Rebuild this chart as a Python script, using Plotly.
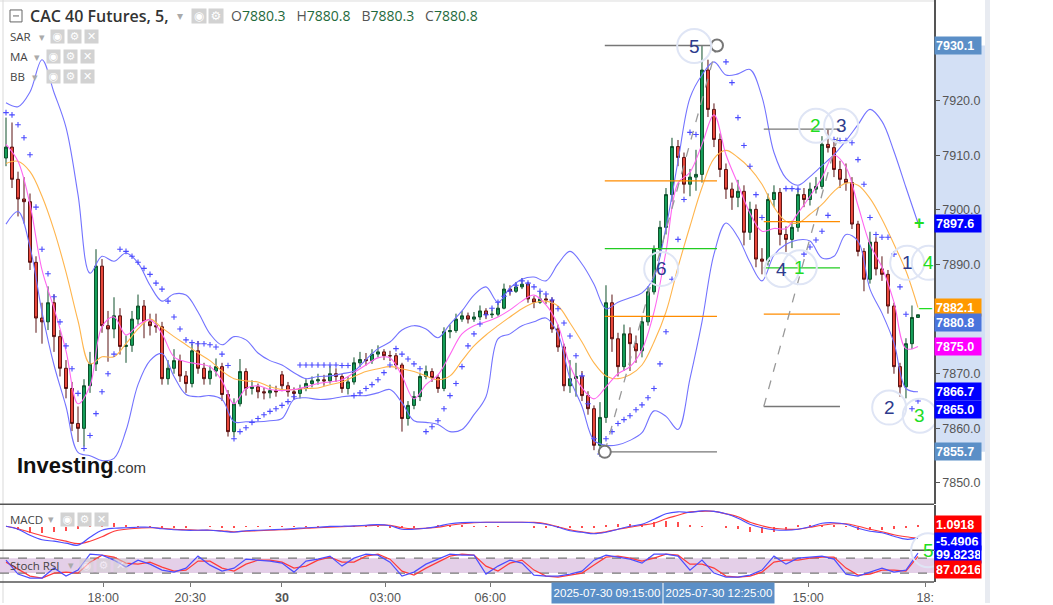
import plotly.graph_objects as go
from plotly.subplots import make_subplots

W, H = 1053, 605

# Candles (one bar per ~10 min)
opens = [7909.5, 7911.5, 7905.6, 7902.0, 7901.5, 7890.4, 7880.2, 7879.5, 7883.0, 7876.8,
         7871.0, 7867.3, 7860.9, 7860.0, 7867.8, 7871.8, 7889.7, 7878.8, 7878.2, 7880.6,
         7875.0, 7875.2, 7880.0, 7882.4, 7879.5, 7878.8, 7878.6, 7869.1, 7871.0, 7872.4,
         7869.6, 7868.2, 7874.2, 7871.0, 7869.1, 7870.5, 7871.3, 7866.2, 7859.4, 7864.5,
         7870.4, 7867.3, 7867.6, 7866.7, 7866.5, 7866.9, 7869.8, 7867.8, 7866.7, 7866.4,
         7867.3, 7868.2, 7868.7, 7868.9, 7868.7, 7870.0, 7869.5, 7867.3, 7868.5, 7872.0,
         7872.6, 7872.4, 7873.6, 7874.0, 7873.3, 7873.3, 7871.6, 7861.8, 7864.2, 7865.8,
         7869.5, 7870.4, 7869.3, 7867.3, 7877.7, 7877.9, 7880.0, 7880.6, 7880.0, 7880.4,
         7881.5, 7880.8, 7880.9, 7882.0, 7885.5, 7885.1, 7885.9, 7886.4, 7883.7, 7883.1,
         7883.7, 7883.5, 7878.2, 7874.9, 7867.8, 7869.1, 7869.5, 7866.0, 7863.6, 7856.9,
         7862.0, 7883.0, 7876.4, 7871.3, 7877.3, 7875.5, 7874.2, 7879.5, 7885.0, 7892.8,
         7896.8, 7902.8, 7911.6, 7909.6, 7904.7, 7906.0, 7906.5, 7925.6, 7918.4, 7912.9,
         7907.4, 7903.8, 7902.3, 7903.4, 7895.9, 7900.1, 7891.0, 7890.6, 7901.9, 7903.2,
         7895.5, 7894.6, 7896.8, 7902.8, 7901.9, 7903.8, 7904.3, 7912.0, 7911.4, 7907.4,
         7905.6, 7905.0, 7897.4, 7892.4, 7887.3, 7894.1, 7889.2, 7888.2, 7882.4, 7871.3,
         7867.6, 7875.5, 7880.3]
highs = [7916.9, 7916.0, 7907.0, 7906.0, 7903.0, 7891.5, 7883.0, 7886.0, 7884.5, 7878.0,
         7872.5, 7868.5, 7864.0, 7869.0, 7874.0, 7892.8, 7891.0, 7881.5, 7884.0, 7882.0,
         7877.0, 7881.5, 7884.5, 7883.5, 7881.0, 7881.0, 7879.5, 7872.5, 7874.5, 7873.5,
         7870.5, 7875.5, 7876.0, 7872.0, 7871.5, 7872.8, 7872.0, 7867.0, 7865.5, 7872.7,
         7871.0, 7868.8, 7868.2, 7867.5, 7868.0, 7867.8, 7870.5, 7868.5, 7867.5, 7868.0,
         7869.0, 7869.5, 7870.0, 7869.8, 7871.5, 7871.0, 7870.0, 7869.5, 7873.0, 7874.0,
         7873.8, 7874.5, 7875.2, 7874.5, 7874.2, 7873.8, 7872.0, 7865.0, 7866.8, 7870.2,
         7871.5, 7871.0, 7869.8, 7878.5, 7879.0, 7881.0, 7881.5, 7881.2, 7881.3, 7882.5,
         7882.0, 7881.8, 7883.0, 7886.5, 7886.2, 7886.8, 7887.5, 7886.8, 7884.2, 7885.0,
         7884.5, 7884.0, 7879.0, 7875.5, 7872.5, 7872.0, 7870.5, 7866.8, 7864.2, 7864.8,
         7886.2, 7884.5, 7877.5, 7879.0, 7878.5, 7877.0, 7880.5, 7886.0, 7893.5, 7898.0,
         7904.0, 7913.2, 7912.8, 7910.5, 7907.5, 7911.0, 7930.1, 7927.5, 7919.5, 7914.0,
         7908.5, 7905.0, 7905.5, 7904.5, 7901.5, 7901.0, 7893.0, 7903.0, 7904.5, 7904.0,
         7897.0, 7898.0, 7904.0, 7904.0, 7905.0, 7906.0, 7913.5, 7914.7, 7912.5, 7909.0,
         7908.5, 7906.0, 7898.0, 7893.0, 7896.0, 7895.0, 7891.5, 7889.0, 7883.0, 7872.0,
         7876.5, 7882.5, 7880.8]
lows = [7908.0, 7904.0, 7898.8, 7897.5, 7889.0, 7877.5, 7875.5, 7878.0, 7874.0, 7869.5,
        7865.5, 7859.5, 7857.5, 7856.7, 7866.5, 7870.5, 7877.5, 7872.2, 7876.5, 7873.5,
        7872.0, 7874.0, 7879.0, 7876.5, 7877.0, 7877.5, 7868.0, 7868.0, 7870.0, 7868.5,
        7866.5, 7867.5, 7870.0, 7868.0, 7868.0, 7869.5, 7865.0, 7858.5, 7858.5, 7864.0,
        7866.0, 7866.2, 7865.5, 7865.3, 7865.5, 7865.8, 7866.8, 7865.8, 7865.3, 7865.5,
        7866.8, 7867.5, 7868.0, 7867.8, 7868.2, 7868.5, 7866.5, 7866.2, 7868.0, 7871.2,
        7871.5, 7871.8, 7873.0, 7872.5, 7872.3, 7870.8, 7859.4, 7860.5, 7863.5, 7865.0,
        7869.0, 7868.5, 7866.5, 7866.8, 7876.5, 7877.5, 7879.5, 7879.2, 7879.5, 7879.8,
        7880.0, 7880.2, 7880.5, 7881.8, 7884.3, 7884.8, 7885.5, 7883.0, 7882.0, 7882.8,
        7882.8, 7877.5, 7874.0, 7866.8, 7866.5, 7865.8, 7865.0, 7862.5, 7856.0, 7855.7,
        7861.0, 7874.0, 7869.5, 7870.5, 7870.5, 7872.0, 7873.0, 7878.8, 7884.5, 7891.5,
        7895.5, 7901.5, 7908.0, 7903.0, 7902.5, 7903.5, 7905.0, 7917.0, 7911.5, 7906.0,
        7902.0, 7900.0, 7900.5, 7893.5, 7894.5, 7889.5, 7888.2, 7889.8, 7900.5, 7893.5,
        7892.3, 7893.0, 7896.0, 7900.5, 7900.8, 7903.0, 7903.8, 7910.5, 7906.0, 7904.0,
        7903.5, 7896.5, 7891.5, 7885.1, 7886.5, 7888.0, 7887.0, 7881.0, 7870.0, 7865.8,
        7865.5, 7874.5, 7880.3]
closes = [7911.5, 7905.6, 7902.0, 7901.5, 7890.4, 7880.2, 7879.5, 7883.0, 7876.8, 7871.0,
          7867.3, 7860.9, 7860.0, 7867.8, 7871.8, 7889.7, 7878.8, 7878.2, 7880.6, 7875.0,
          7875.2, 7880.0, 7882.4, 7879.5, 7878.8, 7878.6, 7869.1, 7871.0, 7872.4, 7869.6,
          7868.2, 7874.2, 7871.0, 7869.1, 7870.5, 7871.3, 7866.2, 7859.4, 7864.5, 7870.4,
          7867.3, 7867.6, 7866.7, 7866.5, 7866.9, 7866.7, 7867.8, 7866.7, 7866.4, 7867.3,
          7868.2, 7868.7, 7868.9, 7868.7, 7870.0, 7869.5, 7867.3, 7868.5, 7872.0, 7872.6,
          7872.4, 7873.6, 7874.0, 7873.3, 7873.3, 7871.6, 7861.8, 7864.2, 7865.8, 7869.5,
          7870.4, 7869.3, 7867.3, 7877.7, 7877.9, 7880.0, 7880.6, 7880.0, 7880.4, 7881.5,
          7880.8, 7880.9, 7882.0, 7885.5, 7885.1, 7885.9, 7886.4, 7883.7, 7883.1, 7883.7,
          7883.5, 7878.2, 7874.9, 7867.8, 7869.1, 7869.5, 7866.0, 7863.6, 7856.9, 7862.0,
          7883.0, 7876.4, 7871.3, 7877.3, 7875.5, 7874.2, 7879.5, 7885.0, 7892.8, 7896.8,
          7902.8, 7911.6, 7909.6, 7904.7, 7906.0, 7906.5, 7925.6, 7918.4, 7912.9, 7907.4,
          7903.8, 7902.3, 7903.4, 7895.9, 7900.1, 7891.0, 7890.6, 7901.9, 7903.2, 7895.5,
          7894.6, 7896.8, 7902.8, 7901.9, 7903.8, 7904.3, 7912.0, 7911.4, 7907.4, 7905.6,
          7905.0, 7897.4, 7892.4, 7887.3, 7894.1, 7889.2, 7888.2, 7882.4, 7871.3, 7867.6,
          7875.5, 7880.3, 7880.8]

# Parabolic SAR, one value per bar (None = no dot visible)
sar = [7917.8, 7917.4, 7915.6, 7913.2, 7910.1, 7900.5, 7892.8, 7888.3, 7884.1, 7879.5,
       7875.1, 7870.9, 7866.4, 7856.3, 7858.7, 7862.7, 7866.7, 7870.0, 7873.6, 7892.8,
       7892.4, 7891.5, 7890.4, 7889.3, 7888.2, 7886.6, 7885.5, 7883.3, 7880.4, 7878.2,
       7876.2, 7875.7, 7875.5, 7875.5, 7875.3, 7874.9, 7873.6, 7871.5, 7858.1, 7859.4,
       7860.1, 7861.1, 7861.8, 7862.5, 7863.1, 7863.6, 7864.2, 7864.9, 7865.8, 7871.6,
       7871.6, 7871.6, 7871.6, 7871.6, 7871.6, 7871.6, 7871.5, 7871.5, 7866.0, 7866.5,
       7867.3, 7868.0, 7868.9, 7870.2, 7871.6, 7874.6, 7873.6, 7872.7, 7871.8, 7870.9,
       7859.4, 7860.3, 7861.4, 7863.6, 7866.0, 7868.2, 7871.3, 7875.1, 7877.3, 7879.1,
       7880.8, 7882.0, 7883.1, 7884.2, 7885.1, 7886.2, 7887.0, 7886.6, 7885.9, 7885.1,
       7884.6, 7883.5, 7881.9, 7879.3, 7876.9, 7873.3, 7869.6, 7864.5, 7858.1, 7855.3,
       7858.1, 7859.4, 7860.9, 7861.6, 7862.3, 7863.4, 7864.3, 7865.6, 7867.3, 7871.8,
       7877.7, 7887.3, 7894.6, 7901.9, 7914.2, 7913.8, None, None, None, None,
       7927.1, 7923.3, 7916.9, 7911.8, 7908.0, 7902.8, 7898.6, None, None, None,
       7903.9, 7903.9, 7903.8, 7891.9, 7893.2, 7894.5, 7896.1, 7899.0, 7912.9, 7912.7,
       7912.7, 7912.3, 7909.2, 7904.7, 7898.6, 7895.5, 7895.0, 7895.0, 7891.9, 7885.9,
       7880.9, 7863.6, 7865.0]

# Bollinger bands and moving averages, read every 2nd bar
bb_upper = [7919.6, 7918.9, 7921.6, 7927.5, 7921.5, 7915.1, 7902.8, 7888.4, 7891.5, 7890.6,
            7892.1, 7890.3, 7886.2, 7883.3, 7884.6, 7884.4, 7881.3, 7877.3, 7875.3, 7876.8,
            7876.2, 7873.8, 7872.4, 7871.6, 7870.2, 7869.1, 7869.5, 7869.6, 7870.0, 7870.5,
            7872.6, 7874.6, 7875.8, 7878.0, 7878.8, 7878.2, 7876.6, 7879.1, 7881.5, 7884.4,
            7885.9, 7883.1, 7885.7, 7887.3, 7887.7, 7887.0, 7890.1, 7892.4, 7890.1, 7886.4,
            7881.9, 7883.1, 7883.9, 7884.8, 7887.7, 7896.8, 7908.9, 7920.5, 7924.7, 7927.1,
            7924.7, 7924.9, 7925.7, 7920.7, 7910.5, 7905.8, 7904.5, 7906.1, 7908.1, 7910.1,
            7912.7, 7915.6, 7918.4, 7916.2, 7910.7, 7904.1, 7897.6]
bb_lower = [7897.4, 7899.7, 7893.2, 7881.3, 7871.6, 7864.0, 7855.6, 7855.0, 7854.1, 7854.5,
            7859.6, 7868.0, 7872.4, 7873.7, 7869.5, 7866.2, 7865.8, 7866.0, 7865.3, 7861.2,
            7861.2, 7861.2, 7861.4, 7861.8, 7865.3, 7865.6, 7865.3, 7865.4, 7865.8, 7866.0,
            7866.0, 7866.5, 7867.1, 7864.7, 7861.4, 7861.1, 7860.7, 7859.4, 7859.8, 7862.5,
            7865.8, 7876.4, 7877.3, 7878.8, 7879.5, 7880.2, 7877.3, 7869.1, 7864.0, 7857.8,
            7856.9, 7857.0, 7857.8, 7859.2, 7863.2, 7862.2, 7859.8, 7869.1, 7879.5, 7891.9,
            7897.6, 7895.0, 7890.4, 7887.0, 7891.7, 7893.7, 7894.5, 7894.3, 7891.2, 7891.5,
            7895.5, 7894.3, 7885.5, 7881.1, 7875.7, 7867.3, 7866.7]
ma_slow = [7908.5, 7908.9, 7907.0, 7902.5, 7896.3, 7888.6, 7879.7, 7871.8, 7873.1, 7873.1,
           7875.5, 7878.2, 7880.0, 7878.4, 7876.8, 7875.3, 7873.8, 7872.4, 7870.5, 7869.1,
           7868.7, 7868.5, 7867.6, 7867.1, 7867.1, 7867.3, 7867.4, 7868.0, 7868.5, 7869.5,
           7870.4, 7870.9, 7871.3, 7870.9, 7870.4, 7869.6, 7868.9, 7869.6, 7872.4, 7875.1,
           7877.1, 7878.8, 7880.4, 7881.9, 7883.0, 7883.3, 7882.4, 7879.3, 7875.8, 7872.0,
           7869.6, 7869.1, 7869.8, 7871.6, 7875.8, 7881.3, 7889.5, 7897.0, 7904.1, 7909.4,
           7910.9, 7909.6, 7907.6, 7904.7, 7900.5, 7897.9, 7897.6, 7899.2, 7901.0, 7903.4,
           7904.9, 7904.5, 7902.1, 7898.3, 7893.7, 7888.8, 7882.1]
ma_fast = [7912.0, 7908.9, 7901.0, 7889.0, 7882.0, 7874.2, 7864.5, 7867.8, 7878.6, 7880.4,
           7877.1, 7878.9, 7879.9, 7877.3, 7873.1, 7872.2, 7871.8, 7871.3, 7868.7, 7864.5,
           7867.3, 7867.8, 7867.1, 7866.9, 7867.1, 7867.6, 7868.2, 7868.5, 7868.9, 7870.2,
           7871.6, 7872.9, 7872.9, 7869.6, 7865.4, 7868.0, 7869.8, 7873.5, 7877.3, 7878.8,
           7879.5, 7880.4, 7881.7, 7883.3, 7884.4, 7882.6, 7878.9, 7871.5, 7867.4, 7865.4,
           7867.6, 7870.0, 7871.3, 7874.4, 7881.3, 7892.4, 7904.9, 7906.9, 7912.0, 7917.4,
           7910.1, 7904.7, 7899.4, 7896.1, 7896.6, 7896.6, 7899.4, 7902.5, 7905.9, 7910.0,
           7907.8, 7900.8, 7893.7, 7889.5, 7883.1, 7874.6, 7875.0]

# MACD panel
macd_line = [0.5, -1, -4, -6.25, -7, -8, -9, -5, -1.5, -0.5,
             -0.25, 0, 0, -0.75, -1.25, -1.5, -1.5, -1.5, -2, -2.5,
             -1.75, -1.5, -1.25, -1, -0.65, -0.25, 0, 0.4, 0.5, 0.65,
             1, 1.35, 0.75, -1, -1, -0.5, 0.5, 1.75, 2.35, 2.5,
             2.5, 2.5, 2.5, 2.5, 2.25, 1.5, 0, -1.75, -2.5, -3.25,
             -2.5, -1, 0.5, 1.5, 4, 6.75, 7.75, 7.5, 8.25, 8,
             6.75, 4.5, 1.5, -0.25, -1.25, -1.5, -1, 0.25, 2, 2.25,
             1.5, -0.5, -2, -2.75, -4.5, -6, -5.49]
macd_signal = [0.5, -0.75, -2.5, -4.25, -5.75, -7, -8.25, -7, -4.75, -2,
               -1, -0.5, -0.25, -0.5, -1, -1.25, -1.5, -1.5, -1.75, -2.25,
               -2, -1.75, -1.5, -1.25, -1, -0.5, -0.25, 0, 0.25, 0.5,
               0.75, 1, 1, -0.25, -0.75, -0.5, 0, 1, 1.75, 2.25,
               2.5, 2.5, 2.5, 2.5, 2.4, 1.75, 0.25, -1.25, -2.25, -3,
               -2.25, -1, 0, 1, 2, 4.25, 6, 7.75, 8, 8,
               6.75, 5.25, 2.5, 0.75, -0.5, -1, -1, 0, 1, 1.75,
               1.75, 0.5, -1, -2.25, -3.75, -4.75, -5.5]
macd_hist = [0, -1.5, -3, -3, -2.5, -2, -1, 2.5, 3.5, 2,
             0.8, 0.3, 0.3, -0.3, -0.3, -0.3, 0, 0.2, -0.2, -0.3,
             0.3, 0.2, 0.2, 0.2, 0.3, 0.3, 0.2, 0.3, 0.2, 0.2,
             0.2, 0.3, -0.3, -0.6, -0.3, 0, 0.5, 0.6, 0.6, 0.3,
             0.2, 0.2, 0, 0, -0.2, -0.4, -0.5, -0.6, -0.5, -0.3,
             1, 1.5, 1.5, 1.5, 2.5, 3, 2.5, 0.8, 0.3, 0,
             -0.3, -1, -2.5, -3, -2.5, -1.5, 0.5, 0.8, 1, 1,
             0.3, -1.5, -1.5, -1.5, -1, -0.5, 1.09]

# Stoch RSI panel
stoch_k = [72, 16, 0, 0, 40, 8, 32, 96, 92, 72,
           44, 72, 56, 32, 24, 40, 88, 52, 28, 40,
           76, 72, 68, 60, 24, 68, 76, 88, 48, 80,
           96, 92, 64, 8, 24, 56, 76, 96, 92, 92,
           16, 48, 72, 60, 12, 8, 8, 16, 28, 72,
           92, 84, 76, 60, 96, 96, 88, 32, 72, 20,
           4, 4, 12, 32, 88, 56, 80, 84, 88, 76,
           16, 8, 24, 40, 24, 32, 99.8]
stoch_d = [64, 36, 8, 0, 20, 24, 20, 64, 92, 84,
           60, 56, 64, 44, 28, 32, 68, 68, 40, 28,
           56, 72, 72, 64, 40, 48, 72, 84, 64, 64,
           88, 96, 76, 28, 12, 40, 64, 88, 96, 92,
           48, 28, 60, 72, 32, 8, 4, 12, 20, 52,
           84, 88, 80, 68, 80, 96, 92, 56, 56, 40,
           8, 4, 8, 24, 64, 72, 72, 80, 84, 84,
           40, 12, 16, 32, 32, 28, 87.0]

# time axis labels (bar positions)
tick_pos = [16.2, 30.7, 46.0, 63.2, 80.7, 133.7, 153.2]
tick_text = ["18:00", "20:30", "<b>30</b>", "03:00", "06:00", "15:00", "18:"]
date_pos = [100.2, 118.8]
date_text = ["2025-07-30 09:15:00", "2025-07-30 12:25:00"]

# price axis ticks (7880 and 7930 sit under the value boxes)
price_ticks = [7850, 7860, 7870, 7890, 7900, 7910, 7920]

# drawings: two retracement tools (levels 0, 1/3, 1/2, 2/3, 1)
fib_levels = [0, 1 / 3, 1 / 2, 2 / 3, 1]
fib_colors = ["#777777", "#ff8c00", "#22cc22", "#ff8c00", "#777777"]
fib_tools = [(99.8, 118.5, 7930.1, 7855.7), (126.3, 139.0, 7914.8, 7864.0)]

# wave count labels
wave_x = [114.7, 135.0, 139.2, 109.2, 129.3, 132.3, 150.2, 153.8, 147.2, 152.3]
wave_y = [7930.0, 7915.4, 7915.4, 7889.2, 7889.0, 7889.5, 7890.3, 7890.3, 7863.8, 7862.3]
wave_txt = ["5", "2", "3", "6", "4", "1", "1", "4", "2", "3"]
wave_green = [False, True, False, False, False, True, False, True, False, True]

bars = list(range(len(closes)))
ind_bars = list(range(0, len(closes), 2))

NAVY = "#2d3a8c"
LIME = "#22dd22"
FONT = "Liberation Sans, Arial"

fig = make_subplots(rows=3, cols=1, shared_xaxes=True, vertical_spacing=0)

fig.add_trace(go.Scatter(x=ind_bars, y=bb_upper, mode="lines", line=dict(color="#7373ff", width=1.1, shape="spline")), 1, 1)
fig.add_trace(go.Scatter(x=ind_bars, y=bb_lower, mode="lines", line=dict(color="#7373ff", width=1.1, shape="spline")), 1, 1)
fig.add_trace(go.Scatter(x=ind_bars, y=ma_slow, mode="lines", line=dict(color="#ffb54d", width=1.1, shape="spline")), 1, 1)
fig.add_trace(go.Scatter(x=ind_bars, y=ma_fast, mode="lines", line=dict(color="#ff66f0", width=1.1, shape="spline")), 1, 1)
fig.add_trace(go.Scatter(x=bars, y=sar, mode="markers",
                         marker=dict(symbol="cross-thin", size=4, line=dict(color="#4a4aff", width=1.1))), 1, 1)
fig.add_trace(go.Candlestick(x=bars, open=opens, high=highs, low=lows, close=closes,
                             increasing=dict(line=dict(color="#0e4f2a", width=1), fillcolor="#16a05a"),
                             decreasing=dict(line=dict(color="#5a1212", width=1), fillcolor="#ec4a3c"),
                             whiskerwidth=0), 1, 1)

fig.add_trace(go.Bar(x=ind_bars, y=macd_hist, width=0.35, marker=dict(color="#ff4d4d", line=dict(width=0))), 2, 1)
fig.add_trace(go.Scatter(x=ind_bars, y=macd_signal, mode="lines", line=dict(color="#ff3b3b", width=1.2, shape="spline")), 2, 1)
fig.add_trace(go.Scatter(x=ind_bars, y=macd_line, mode="lines", line=dict(color="#4d4dff", width=1.2, shape="spline")), 2, 1)

fig.add_trace(go.Scatter(x=ind_bars, y=stoch_d, mode="lines", line=dict(color="#ff3b3b", width=1.2)), 3, 1)
fig.add_trace(go.Scatter(x=ind_bars, y=stoch_k, mode="lines", line=dict(color="#4d4dff", width=1.2)), 3, 1)


def px(x):
    return x / W


def py(y):
    return 1 - y / H


x_right = px(934)
shapes = []
ann = []

# panel background bits
shapes.append(dict(type="rect", xref="x3", yref="y3", x0=-1, x1=154.67, y0=20, y1=80,
                   fillcolor="#e4cfe8", line=dict(width=0), layer="below"))
for lv in (20, 80):
    shapes.append(dict(type="line", xref="x3", yref="y3", x0=-1, x1=154.67, y0=lv, y1=lv,
                       line=dict(color="#777777", width=1.2, dash="dash"), layer="below"))
shapes.append(dict(type="rect", xref="paper", yref="y", x0=x_right, x1=px(985), y0=7855.7, y1=7930.1,
                   fillcolor="#d3e0f5", line=dict(width=0), layer="below"))
shapes.append(dict(type="rect", xref="paper", yref="paper", x0=px(985), x1=px(990), y0=0, y1=1,
                   fillcolor="#e8ebf1", line=dict(width=0), layer="below"))
shapes.append(dict(type="line", xref="paper", yref="paper", x0=px(3), x1=px(3), y0=0, y1=1,
                   line=dict(color="#e6e6e6", width=1.5), layer="below"))
for yy in (506, 552, 584):
    shapes.append(dict(type="line", xref="paper", yref="paper", x0=0, x1=x_right, y0=py(yy), y1=py(yy),
                       line=dict(color="#555555", width=1.5)))
shapes.append(dict(type="line", xref="paper", yref="paper", x0=0, x1=x_right, y0=py(1), y1=py(1),
                   line=dict(color="#dddddd", width=1)))

# retracement tools
for x0, x1, hi, lo in fib_tools:
    for lv, col in zip(fib_levels, fib_colors):
        yv = hi - (hi - lo) * lv
        shapes.append(dict(type="line", xref="x", yref="y", x0=x0, x1=x1, y0=yv, y1=yv,
                           line=dict(color=col, width=1.3)))
    shapes.append(dict(type="line", xref="x", yref="y", x0=x0, x1=x1, y0=lo, y1=hi,
                       line=dict(color="#999999", width=1.3, dash="dash")))
fx0, fx1, fhi, flo = fib_tools[0]
for cx, cy in ((fx1, fhi), (fx0, flo)):
    shapes.append(dict(type="circle", xref="x", yref="y", xsizemode="pixel", ysizemode="pixel",
                       xanchor=cx, yanchor=cy, x0=-6, x1=6, y0=-6, y1=6,
                       fillcolor="white", line=dict(color="#777777", width=2)))

# wave count circles + numbers
for wx, wy, t, g in zip(wave_x, wave_y, wave_txt, wave_green):
    shapes.append(dict(type="circle", xref="x", yref="y", xsizemode="pixel", ysizemode="pixel",
                       xanchor=wx, yanchor=wy, x0=-17, x1=17, y0=-17, y1=17,
                       line=dict(color="#dfe5f5", width=2)))
    ann.append(dict(x=wx, y=wy, xref="x", yref="y", text=t, showarrow=False,
                    font=dict(size=19, color=LIME if g else NAVY, family=FONT)))
shapes.append(dict(type="circle", xref="x", yref="paper", xsizemode="pixel", ysizemode="pixel",
                   xanchor=153.7, yanchor=py(552), x0=-17, x1=17, y0=-17, y1=17,
                   line=dict(color="#dfe5f5", width=2)))
ann.append(dict(x=153.7, y=py(552), xref="x", yref="paper", text="5", showarrow=False,
                font=dict(size=19, color=LIME, family=FONT)))
ann.append(dict(x=152.2, y=bb_upper[-1], xref="x", yref="y", text="<b>+</b>", showarrow=False,
                font=dict(size=18, color=LIME, family=FONT)))
ann.append(dict(x=153.3, y=ma_slow[-1], xref="x", yref="y", text="<b>—</b>", showarrow=False,
                font=dict(size=13, color=LIME, family=FONT)))

# value labels on the right axis
price_labels = [
    ("7930.1", 7930.1, "#5b8fc7", "y", 0),
    ("7897.6", bb_upper[-1], "#0000ff", "y", 0),
    ("7882.1", ma_slow[-1], "#ff9900", "y", 0),
    ("7880.8", closes[-1], "#4a74dc", "y", -8),
    ("7875.0", ma_fast[-1], "#ff00ff", "y", 0),
    ("7866.7", bb_lower[-1], "#0000ff", "y", 0),
    ("7865.0", sar[-1], "#0000ff", "y", -8),
    ("7855.7", 7855.7, "#5b8fc7", "y", 0),
    ("1.0918", macd_hist[-1], "#ff0000", "y2", 1),
    ("-5.4906", macd_line[-1], "#0000ff", "y2", -3),
    ("99.8238", stoch_k[-1], "#0000ff", "y3", -1),
    ("87.0216", stoch_d[-1], "#ff0000", "y3", -13),
]
for txt, val, col, yr, sh in price_labels:
    ann.append(dict(x=x_right, y=val, xref="paper", yref=yr, xanchor="left", yanchor="middle",
                    text="<b>" + txt + "</b>", showarrow=False, bgcolor=col, width=44, height=15,
                    align="left", yshift=sh, font=dict(size=12.5, color="white", family=FONT)))

# date highlight boxes on time axis
for dp, dt in zip(date_pos, date_text):
    ann.append(dict(x=dp, y=py(595), xref="x3", yref="paper", text=dt, showarrow=False,
                    bgcolor="#5b8fc7", font=dict(size=11.5, color="white", family=FONT),
                    width=108, height=18, borderpad=1))

# header and indicator names
ann.append(dict(x=px(28), y=py(16), xref="paper", yref="paper", xanchor="left", text="CAC 40 Futures, 5,",
                showarrow=False, font=dict(size=16, color="#333333", family="Open Sans", weight=600)))
ohlc = "&nbsp;&nbsp;&nbsp;".join(
    k + "<span style='color:#1f6a3c'>" + v + "</span>"
    for k, v in (("O", "7880.3"), ("H", "7880.8"), ("B", "7880.3"), ("C", "7880.8")))
ann.append(dict(x=px(229), y=py(16), xref="paper", yref="paper", xanchor="left", text=ohlc,
                showarrow=False, font=dict(size=14, color="#555555", family="Open Sans")))
shapes.append(dict(type="rect", xref="paper", yref="paper", x0=px(10), x1=px(22), y0=py(22), y1=py(10),
                   line=dict(color="#666666", width=1)))
shapes.append(dict(type="line", xref="paper", yref="paper", x0=px(13), x1=px(19), y0=py(16), y1=py(16),
                   line=dict(color="#666666", width=1)))

rows = [("SAR", 8, 37, 37, [51, 68, 85]),
        ("MA", 8, 57, 32, [47, 64, 81]),
        ("BB", 8, 77, 30, [47, 64, 81]),
        ("MACD", 8, 521, 46, [61, 78, 95]),
        ("Stoch RSI", 8, 567, 66, [80, 97, 114])]
glyphs = ["◉", "⚙", "✕"]
for name, x0, yc, caret, icons in rows:
    ann.append(dict(x=px(x0), y=py(yc), xref="paper", yref="paper", xanchor="left", text=name,
                    showarrow=False, font=dict(size=11.5, color="#444444", family="Open Sans")))
    ann.append(dict(x=px(caret), y=py(yc), xref="paper", yref="paper", xanchor="left", text="▾",
                    showarrow=False, font=dict(size=11, color="#aaaaaa")))
    for ix, g in zip(icons, glyphs):
        ann.append(dict(x=px(ix + 6.5), y=py(yc), xref="paper", yref="paper", text=g, showarrow=False,
                        bgcolor="#d2d2d2", width=13, height=13, borderpad=0,
                        opacity=0.55 if name == "Stoch RSI" else 1,
                        font=dict(size=11, color="#ffffff", family="DejaVu Sans")))
ann.append(dict(x=px(175), y=py(16), xref="paper", yref="paper", xanchor="left", text="▾",
                showarrow=False, font=dict(size=12, color="#aaaaaa")))
for ix, g in zip([192, 209], glyphs[:2]):
    ann.append(dict(x=px(ix + 7), y=py(16), xref="paper", yref="paper", text=g, showarrow=False,
                    bgcolor="#d2d2d2", width=14, height=14, borderpad=0,
                    font=dict(size=12, color="#ffffff", family="DejaVu Sans")))

# watermark
ann.append(dict(x=px(15), y=py(467), xref="paper", yref="paper", xanchor="left",
                text="<b>Investing</b><span style='font-size:15px;color:#3a3a3a'>.com</span>",
                showarrow=False, font=dict(size=22, color="#111111", family=FONT)))

# paper-positioned text would otherwise auto-anchor to its top/bottom edge
for a in ann:
    a.setdefault("xanchor", "center")
    a.setdefault("yanchor", "middle")

fig.update_layout(
    width=W, height=H, margin=dict(l=0, r=0, t=0, b=0),
    plot_bgcolor="white", paper_bgcolor="white", showlegend=False, hovermode=False,
    font=dict(family=FONT), shapes=shapes, annotations=ann, bargap=0,
)
xcommon = dict(domain=[0, x_right], range=[-1, 154.67], showgrid=False, zeroline=False, showline=False)
fig.update_layout(
    xaxis=dict(**xcommon, rangeslider=dict(visible=False)),
    xaxis2=dict(**xcommon),
    xaxis3=dict(**xcommon, tickvals=tick_pos, ticktext=tick_text, ticks="outside", ticklen=4,
                tickcolor="#777777", tickfont=dict(size=12.5, color="#555555", family=FONT)),
    yaxis=dict(domain=[py(506), 1], range=[7846.09, 7938.43], side="right", showgrid=False,
               zeroline=False, showline=True, linecolor="#555555", linewidth=1.5,
               tickvals=price_ticks, ticktext=["%.1f" % v for v in price_ticks],
               ticks="outside", ticklen=4, tickcolor="#555555",
               tickfont=dict(size=12.5, color="#555555", family=FONT)),
    yaxis2=dict(domain=[py(552), py(507)], range=[-11.5, 11], side="right", showgrid=False,
                zeroline=False, showline=True, linecolor="#555555", linewidth=1.5, showticklabels=False),
    yaxis3=dict(domain=[py(584), py(553)], range=[-16, 108], side="right", showgrid=False,
                zeroline=False, showline=True, linecolor="#555555", linewidth=1.5, showticklabels=False),
)

# the page body has a default 8px margin; drop it so the figure sits at the window corner
fig.write_html("out.html", config={"displayModeBar": False},
               post_script="document.body.style.margin='0px';")
